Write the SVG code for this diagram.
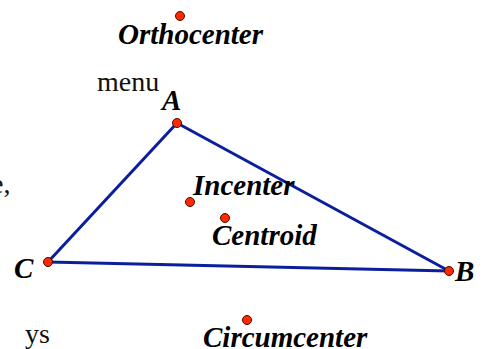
<svg xmlns="http://www.w3.org/2000/svg" width="484" height="349" viewBox="0 0 484 349">
<style>
.lbl{font-family:"Liberation Serif","Times New Roman",serif;font-weight:bold;font-style:italic;font-size:29px;fill:#000}
.txt{font-family:"Liberation Serif","Times New Roman",serif;font-size:28px;fill:#111}
.pt{fill:#ff2a00;stroke:#4a0a00;stroke-width:1}
.seg{stroke:#0b1e9c;stroke-width:3;stroke-linecap:round;fill:none}
</style>
<rect width="484" height="349" fill="#fff"/>
<g id="paragraph">
<text class="txt" x="-12" y="43">e</text>
<text class="txt" x="97" y="91">menu</text>
<text class="txt" x="-9" y="193">e,</text>
<text class="txt" x="25" y="343">ys</text>
</g>
<g id="connectors">
<line class="seg" x1="177" y1="123" x2="449" y2="271"/>
<line class="seg" x1="177" y1="123" x2="48" y2="262"/>
<line class="seg" x1="48" y1="262" x2="449" y2="271"/>
</g>
<g id="A"><circle class="pt" cx="177" cy="123" r="4.5"/><text class="lbl" x="162" y="110">A</text></g>
<g id="B"><circle class="pt" cx="449" cy="271" r="4.5"/><text class="lbl" x="455" y="281">B</text></g>
<g id="C"><circle class="pt" cx="48" cy="262" r="4.5"/><text class="lbl" x="14" y="278">C</text></g>
<g id="orthocenter"><circle class="pt" cx="180" cy="16" r="4.5"/><text class="lbl" x="118" y="44">Orthocenter</text></g>
<g id="incenter"><circle class="pt" cx="190" cy="202" r="4.5"/><text class="lbl" x="193" y="195">Incenter</text></g>
<g id="centroid"><circle class="pt" cx="225" cy="218" r="4.5"/><text class="lbl" x="212" y="245">Centroid</text></g>
<g id="circumcenter"><circle class="pt" cx="247" cy="320" r="4.5"/><text class="lbl" x="203" y="347">Circumcenter</text></g>
</svg>
